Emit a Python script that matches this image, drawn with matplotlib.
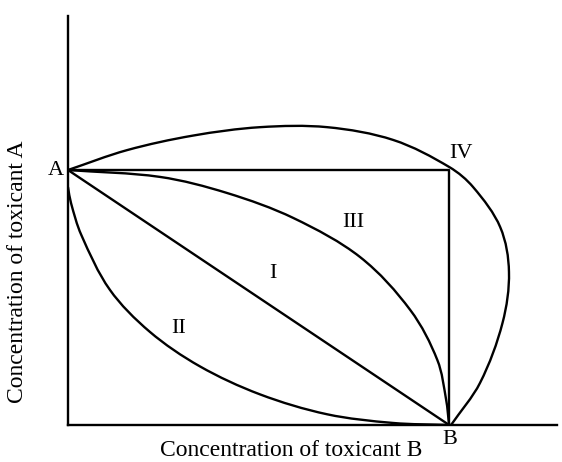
import matplotlib
matplotlib.use("Agg")
import matplotlib.pyplot as plt
import numpy as np
from matplotlib.path import Path
from matplotlib.patches import PathPatch

# Isobologram shapes, unit coords: A = (0, 1) on the A axis, B = (1, 0) on the B axis
curve_iv_x = [0.0, 0.155, 0.328, 0.504, 0.680, 0.853, 1.0, 1.063, 1.134, 1.157,
              1.140, 1.081, 1.005]
curve_iv_y = [1.0, 1.078, 1.135, 1.168, 1.168, 1.118, 1.012, 0.933, 0.776, 0.600,
              0.400, 0.165, 0.0]

curve_iii_x = [0.0, 0.241, 0.417, 0.591, 0.766, 0.898, 0.969, 0.992, 1.0]
curve_iii_y = [1.0, 0.973, 0.910, 0.812, 0.659, 0.451, 0.255, 0.100, 0.0]

curve_ii_x = [0.0, 0.008, 0.035, 0.110, 0.215, 0.346, 0.504, 0.680, 0.853, 1.0]
curve_ii_y = [0.933, 0.870, 0.745, 0.530, 0.365, 0.230, 0.120, 0.042, 0.008, 0.0]

point_a = (0.0, 1.0)
point_b = (1.0, 0.0)
point_iv = (1.0, 1.0)

region_labels = ["I", "II", "III"]
region_x = [0.538, 0.289, 0.748]
region_y = [0.596, 0.380, 0.796]


def smooth_path(xs, ys):
    """Smooth cubic Bezier through the points; handle length follows chord length."""
    p = np.column_stack([xs, ys])
    n = len(p)
    tang = np.zeros_like(p)
    for i in range(n):
        d = p[min(i + 1, n - 1)] - p[max(i - 1, 0)]
        tang[i] = d / np.hypot(*d)
    verts = [p[0]]
    codes = [Path.MOVETO]
    for i in range(n - 1):
        seg = np.hypot(*(p[i + 1] - p[i])) / 3
        verts += [p[i] + tang[i] * seg, p[i + 1] - tang[i + 1] * seg, p[i + 1]]
        codes += [Path.CURVE4] * 3
    return Path(verts, codes)


plt.rcParams["font.family"] = ["Liberation Serif", "DejaVu Serif"]

fig = plt.figure(figsize=(5.62, 4.62), dpi=100)
ax = fig.add_axes([68 / 562, 1 - 425 / 462, 489 / 562, 409 / 462])
ax.set_xlim(0, 1.283)
ax.set_ylim(0, 1.604)

lw = 1.7
for xs, ys in [(curve_iv_x, curve_iv_y), (curve_iii_x, curve_iii_y),
               (curve_ii_x, curve_ii_y)]:
    ax.add_patch(PathPatch(smooth_path(xs, ys), fill=False,
                           edgecolor="black", linewidth=lw))

kw = dict(color="black", linewidth=lw, solid_capstyle="round")
# additivity line and the box A - IV - B
ax.plot([point_a[0], point_b[0]], [point_a[1], point_b[1]], **kw)
ax.plot([point_a[0], point_iv[0], point_b[0]],
        [point_a[1], point_iv[1], point_b[1]], **kw)

fs = 16
for lab, x, y in zip(region_labels, region_x, region_y):
    ax.text(x, y, lab, ha="center", va="center", fontsize=fs)
ax.text(point_a[0] - 0.012, point_a[1], "A", ha="right", va="center", fontsize=fs)
ax.text(point_iv[0] + 0.03, point_iv[1] + 0.065, "IV", ha="center", va="center", fontsize=fs)
ax.text(point_b[0] + 0.003, point_b[1] - 0.055, "B", ha="center", va="center",
        fontsize=fs, clip_on=False)

for side in ("top", "right"):
    ax.spines[side].set_visible(False)
for side in ("left", "bottom"):
    ax.spines[side].set_linewidth(1.7)
ax.set_xticks([])
ax.set_yticks([])

fig.text(291 / 562, 1 - 450 / 462, "Concentration of toxicant B",
         ha="center", va="center", fontsize=17)
fig.text(18 / 562, 1 - 272 / 462, "Concentration of toxicant A",
         ha="center", va="center", rotation=90, fontsize=17)

fig.savefig("out.png", dpi=100)
